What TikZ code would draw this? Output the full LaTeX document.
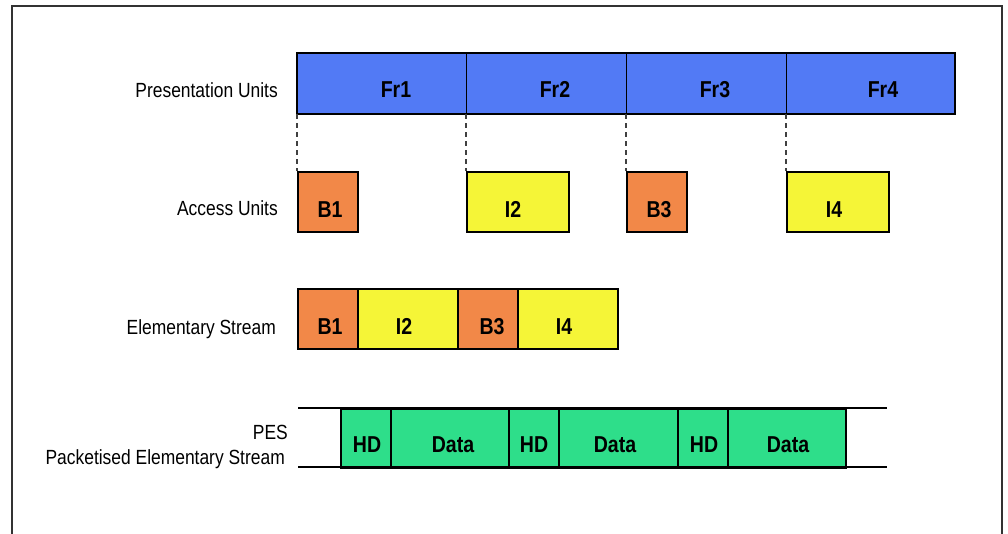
\documentclass[tikz,border=0pt]{standalone}
\usepackage{fontspec}
\setmainfont[FakeStretch=0.85]{Liberation Sans}
\definecolor{puBlue}{RGB}{82,122,245}
\definecolor{bOrange}{RGB}{242,136,72}
\definecolor{iYellow}{RGB}{245,245,55}
\definecolor{pesGreen}{RGB}{46,222,138}
\definecolor{frameGray}{RGB}{50,50,50}
\begin{document}
\begin{tikzpicture}[x=1pt,y=-1pt,
  unit/.style={draw=black, line width=2.2pt, inner sep=0pt, minimum height=60pt, anchor=north west},
  prbox/.style={unit, fill=puBlue, line width=1.2pt},
  bbox/.style={unit, fill=bOrange},
  ibox/.style={unit, fill=iYellow},
  pbox/.style={unit, fill=pesGreen, minimum height=59pt, line width=1.8pt},
  rowlabel/.style={anchor=base east, inner sep=0pt, font=\fontsize{20.5}{23}\selectfont},
  boxtext/.style={anchor=base, inner sep=0pt, font=\bfseries\fontsize{23}{25}\selectfont},
  guide/.style={draw=black!75, line width=1.2pt, dash pattern=on 5pt off 4pt},
  rail/.style={draw=black, line width=2.4pt}
]
\useasboundingbox (0,0) rectangle (1008,533);

% outer frame (open at the bottom edge)
\draw[frameGray, line width=2pt] (12,545) -- (12,6) -- (1002,6) -- (1002,545);

% row labels
\node[rowlabel] (lblpu) at (278,97.4) {Presentation Units};
\node[rowlabel] (lblau) at (278,215.4) {Access Units};
\node[rowlabel] (lbles) at (276,334.4) {Elementary Stream};
\node[rowlabel] (lblpes) at (288,439.4) {PES};
\node[rowlabel] (lblpes2) at (285,464.4) {Packetised Elementary Stream};

% presentation units
\node[prbox, minimum width=169pt] (fr1) at (297,53) {};
\node[prbox, minimum width=160pt] (fr2) at (466,53) {};
\node[prbox, minimum width=160pt] (fr3) at (626,53) {};
\node[prbox, minimum width=168pt] (fr4) at (786,53) {};
\draw[line width=2.4pt] (fr1.north west) rectangle (fr4.south east);
\node[boxtext] (tfr1) at (396,97) {Fr1};
\node[boxtext] (tfr2) at (555,97) {Fr2};
\node[boxtext] (tfr3) at (715,97) {Fr3};
\node[boxtext] (tfr4) at (883,97) {Fr4};

% access units
\node[bbox, minimum width=60pt] (au1) at (297,171) {};
\node[ibox, minimum width=102pt] (au2) at (466,171) {};
\node[bbox, minimum width=60pt] (au3) at (626,171) {};
\node[ibox, minimum width=102pt] (au4) at (786,171) {};
\node[boxtext] (tau1) at (330,217) {B1};
\node[boxtext] (tau2) at (513,217) {I2};
\node[boxtext] (tau3) at (659,217) {B3};
\node[boxtext] (tau4) at (834,217) {I4};

% dashed guides from frame boundaries to access units
\draw[guide] (fr1.south west) -- (au1.north west);
\draw[guide] (fr2.south west) -- (au2.north west);
\draw[guide] (fr3.south west) -- (au3.north west);
\draw[guide] (fr4.south west) -- (au4.north west);

% elementary stream
\node[bbox, minimum width=60pt] (es1) at (297,288) {};
\node[ibox, minimum width=100pt] (es2) at (357,288) {};
\node[bbox, minimum width=60pt] (es3) at (457,288) {};
\node[ibox, minimum width=100pt] (es4) at (517,288) {};
\node[boxtext] (tes1) at (330,334) {B1};
\node[boxtext] (tes2) at (404,334) {I2};
\node[boxtext] (tes3) at (492,334) {B3};
\node[boxtext] (tes4) at (564,334) {I4};

% packetised elementary stream
\node[pbox, minimum width=50pt] (hd1) at (340,408) {};
\node[pbox, minimum width=118pt] (dt1) at (390,408) {};
\node[pbox, minimum width=50pt] (hd2) at (508,408) {};
\node[pbox, minimum width=119pt] (dt2) at (558,408) {};
\node[pbox, minimum width=50pt] (hd3) at (677,408) {};
\node[pbox, minimum width=118pt] (dt3) at (727,408) {};
\coordinate (railTL) at (298,408);
\coordinate (railTR) at (887,408);
\coordinate (railBL) at (298,467);
\coordinate (railBR) at (887,467);
\draw[rail] (railTL) -- (railTR);
\draw[rail] (railBL) -- (railBR);
\node[boxtext] (thd1) at (367,452) {HD};
\node[boxtext] (tdt1) at (453,452) {Data};
\node[boxtext] (thd2) at (534,452) {HD};
\node[boxtext] (tdt2) at (615,452) {Data};
\node[boxtext] (thd3) at (704,452) {HD};
\node[boxtext] (tdt3) at (788,452) {Data};
\end{tikzpicture}
\end{document}
